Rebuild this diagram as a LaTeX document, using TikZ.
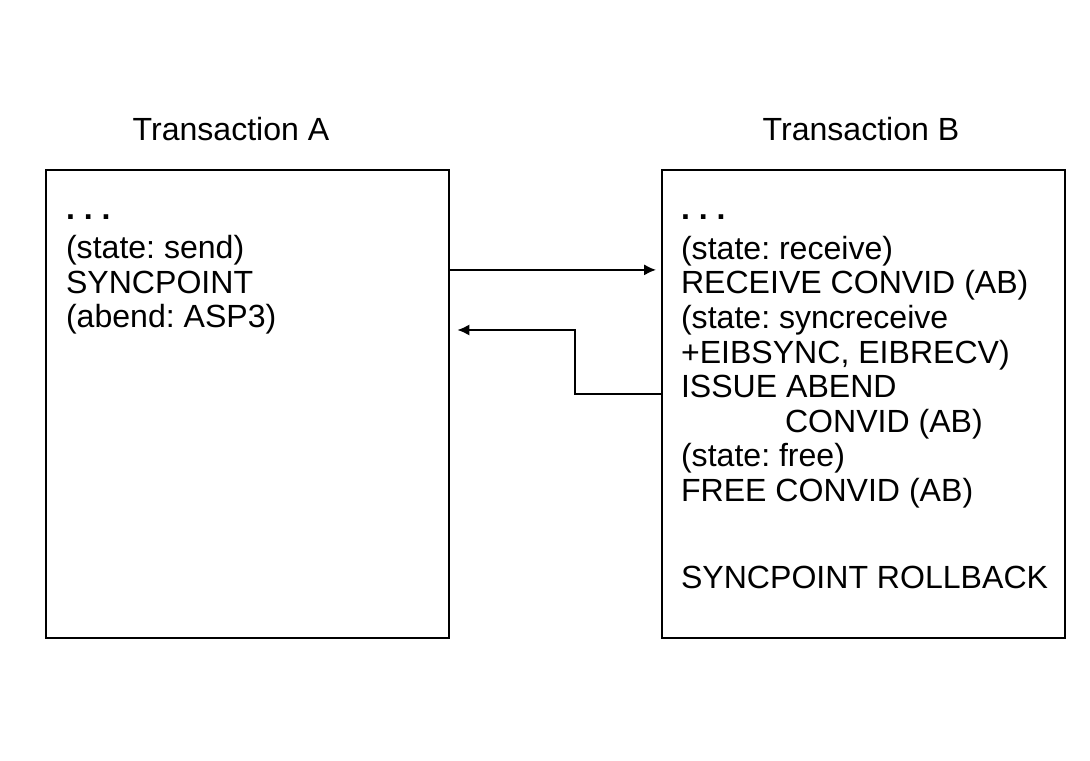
\documentclass[tikz,border=0pt]{standalone}
\usepackage{fontspec}
\setmainfont{Liberation Sans}
\usetikzlibrary{calc,arrows.meta}

\begin{document}
\frenchspacing
\begin{tikzpicture}[x=0.025cm,y=-0.025cm,line width=1.5pt,
    box/.style={draw,minimum width=10.075cm,minimum height=11.7cm,inner sep=0pt},
    body/.style={anchor=base west,align=left,inner sep=0pt,
      font=\fontsize{22.8pt}{24.6pt}\selectfont},
    title/.style={font=\fontsize{22.8pt}{24.6pt}\selectfont},
    msg/.style={-{Latex[length=0.3cm,width=0.28cm]}}]
    \useasboundingbox (0,0) rectangle (1090,761);

    % the two transactions
    \node[box] (boxA) at (247.5,404) {};
    \node[box] (boxB) at (863.5,404) {};
    \node[title] (titleA) at (231,129) {Transaction A};
    \node[title] (titleB) at (861,129) {Transaction B};

    % base anchor = baseline of the last line
    \node[body] (textA) at (65,327.8) {\raisebox{0.12cm}{\textbf{. . .}}\\
      (state: send)\\SYNCPOINT\\(abend: ASP3)};
    \node[body] (textB) at (680,588) {\raisebox{0.12cm}{\textbf{. . .}}\\
      (state: receive)\\RECEIVE CONVID (AB)\\(state: syncreceive\\
      +EIBSYNC, EIBRECV)\\ISSUE ABEND\\\hspace*{2.6cm}CONVID (AB)\\
      (state: free)\\FREE CONVID (AB)\\[1.3cm]SYNCPOINT ROLLBACK};

    % flows between A and B
    \coordinate (sendA) at ($(boxA.north east)+(0,101)$);
    \coordinate (abendB) at ($(boxB.north west)+(0,225)$);
    \coordinate (turn) at (575,330);
    \draw[msg,shorten >=0.12cm] (sendA) -- (sendA -| boxB.west);
    \draw[msg,shorten >=0.18cm] (abendB) -| (turn) -- (turn -| boxA.east);
\end{tikzpicture}
\end{document}
